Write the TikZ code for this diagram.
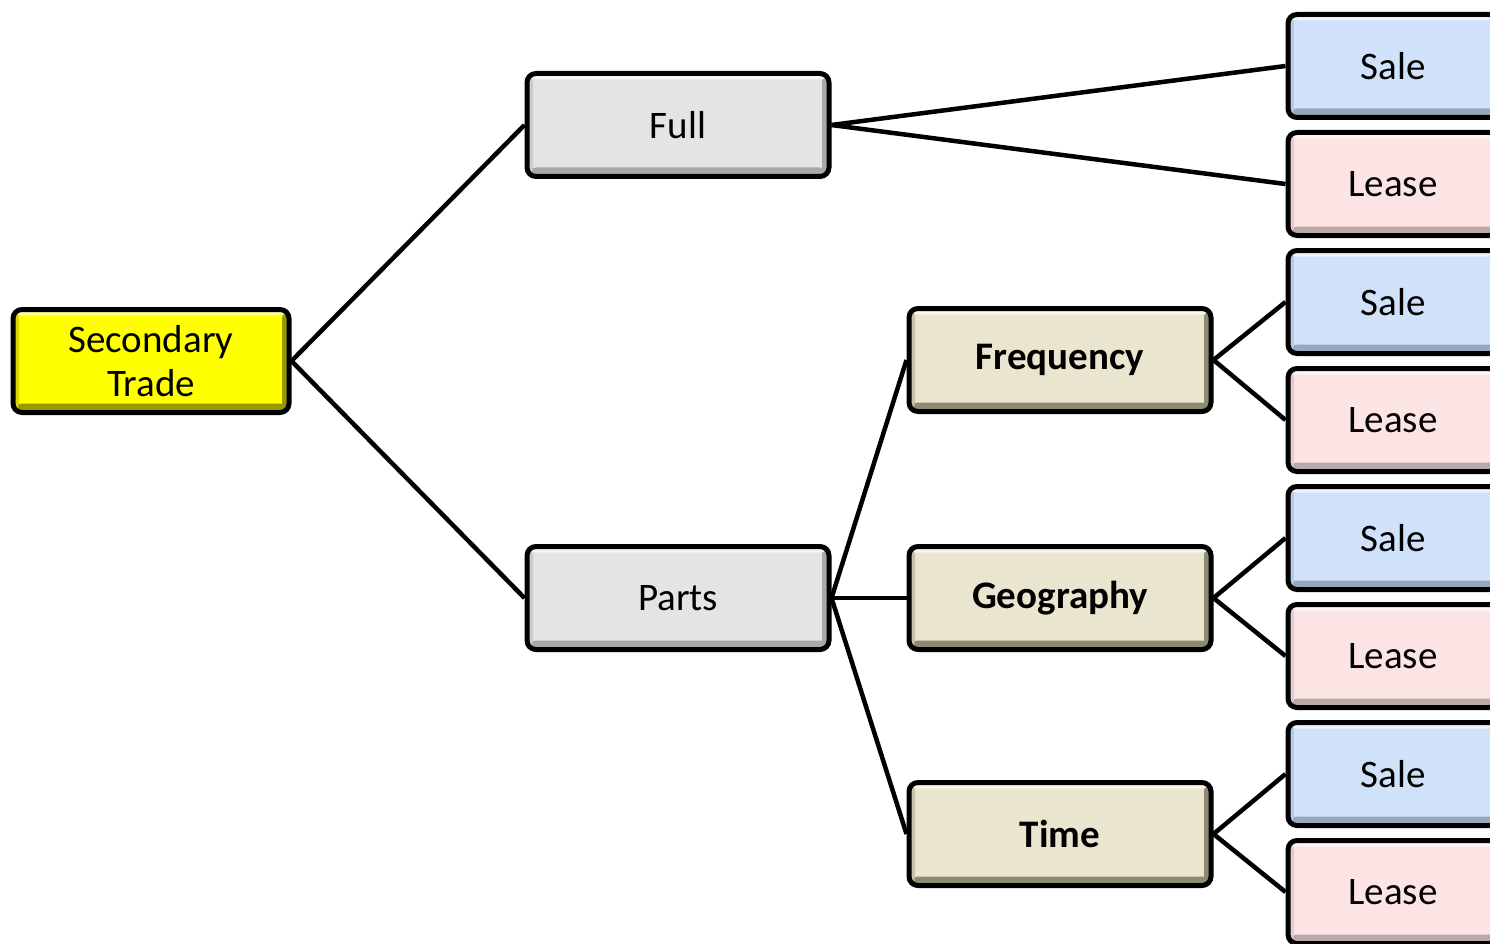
\documentclass[tikz,border=0pt]{standalone}
\usepackage{fontspec}
\setmainfont{Carlito}
\definecolor{ygold}{HTML}{FFFF00}
\definecolor{yedge}{HTML}{9A9A00}
\definecolor{gfill}{HTML}{E4E4E4}
\definecolor{gedge}{HTML}{A8A8A8}
\definecolor{tfill}{HTML}{EAE5CF}
\definecolor{tedge}{HTML}{8E8A72}
\definecolor{bfill}{HTML}{CFE2FA}
\definecolor{bedge}{HTML}{98A8BC}
\definecolor{pfill}{HTML}{FDE4E4}
\definecolor{pedge}{HTML}{BBA8A8}
\tikzset{
  bx/.style n args={2}{draw=black, line width=5pt, rounded corners=9pt, fill=#1,
    minimum width=302pt, minimum height=103pt, inner sep=0pt, align=center,
    font=\fontsize{39}{44}\selectfont,
    path picture={
      \fill[#2] (path picture bounding box.south west) rectangle ([yshift=9pt]path picture bounding box.south east);
      \fill[#2] ([xshift=-7pt]path picture bounding box.south east) rectangle (path picture bounding box.north east);
      \fill[#2!40!#1] (path picture bounding box.south west) rectangle ([xshift=6pt]path picture bounding box.north west);
      \fill[white!60!#1] (path picture bounding box.north west) rectangle ([yshift=-6pt]path picture bounding box.north east);
    }},
  root/.style={bx={ygold}{yedge}, minimum width=276pt},
  mid/.style={bx={gfill}{gedge}},
  cat/.style={bx={tfill}{tedge}, font=\fontsize{39}{44}\selectfont\bfseries},
  sale/.style={bx={bfill}{bedge}, minimum width=210pt},
  lease/.style={bx={pfill}{pedge}, minimum width=210pt},
  conn/.style={line width=4.5pt}
}
\begin{document}
\begin{tikzpicture}[x=1pt,y=-1pt]
\useasboundingbox (0,0) rectangle (1490,944);
\clip (0,0) rectangle (1490,944);
\node[root] (st) at (151,361) {Secondary\\Trade};
\node[mid] (full) at (678,125) {Full};
\node[mid] (parts) at (678,598) {Parts};
\node[cat] (freq) at (1060,360) {Frequency};
\node[cat] (geo) at (1060,598) {Geography};
\node[cat] (time) at (1060,834) {Time};
\node[sale] (s1) at (1393,66) {Sale};
\node[lease] (l1) at (1393,184) {Lease};
\node[sale] (s2) at (1393,302) {Sale};
\node[lease] (l2) at (1393,420) {Lease};
\node[sale] (s3) at (1393,538) {Sale};
\node[lease] (l3) at (1393,656) {Lease};
\node[sale] (s4) at (1393,774) {Sale};
\node[lease] (l4) at (1393,892) {Lease};
\draw[conn] (st.east) -- (full.west);
\draw[conn] (st.east) -- (parts.west);
\draw[conn] (full.east) -- (s1.west);
\draw[conn] (full.east) -- (l1.west);
\draw[conn] (parts.east) -- (freq.west);
\draw[conn] (parts.east) -- (geo.west);
\draw[conn] (parts.east) -- (time.west);
\draw[conn] (freq.east) -- (s2.west);
\draw[conn] (freq.east) -- (l2.west);
\draw[conn] (geo.east) -- (s3.west);
\draw[conn] (geo.east) -- (l3.west);
\draw[conn] (time.east) -- (s4.west);
\draw[conn] (time.east) -- (l4.west);
\end{tikzpicture}
\end{document}
